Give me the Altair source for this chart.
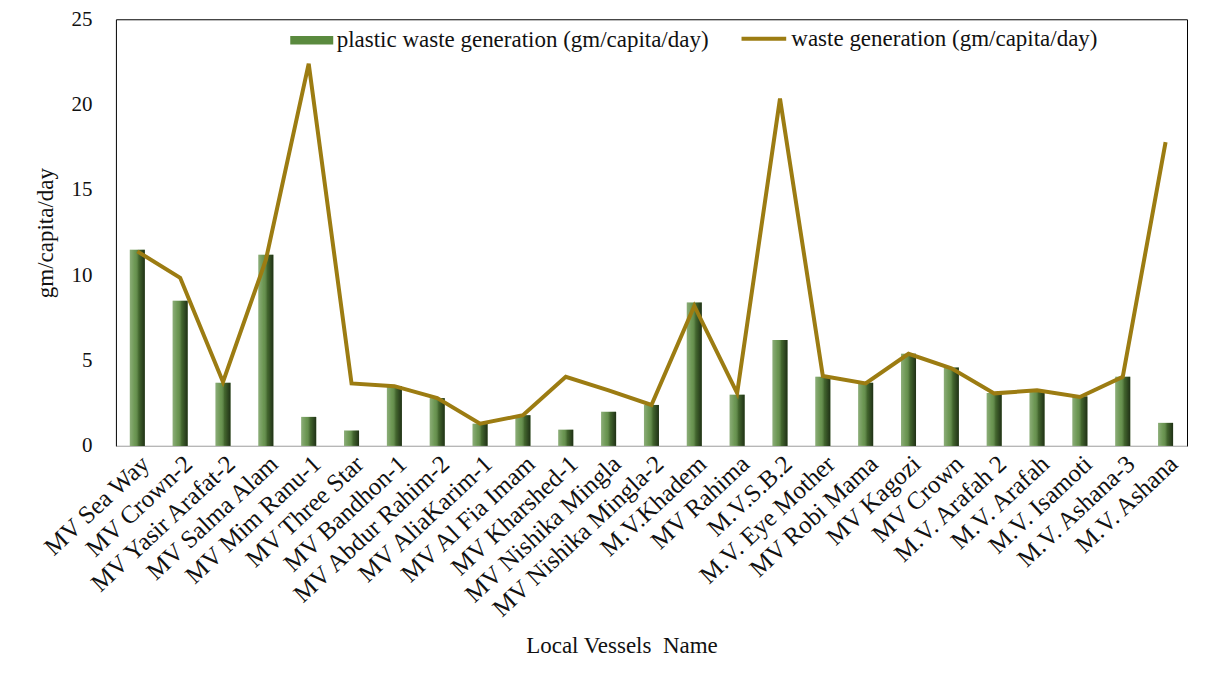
import altair as alt
import pandas as pd

vessels = [
    "MV Sea Way", "MV Crown-2", "MV Yasir Arafat-2", "MV Salma Alam", "MV Mim Ranu-1",
    "MV Three Star", "MV Bandhon-1", "MV Abdur Rahim-2", "MV AliaKarim-1", "MV Al Fia Imam",
    "MV Kharshed-1", "MV Nishika Mingla", "MV Nishika Mingla-2", "M.V.Khadem", "MV Rahima",
    "M.V.S.B.2", "M.V. Eye Mother", "MV Robi Mama", "MV Kagozi", "MV Crown",
    "M.V. Arafah 2", "M.V. Arafah", "M.V. Isamoti", "M.V. Ashana-3", "M.V. Ashana",
]
plastic = [11.5, 8.5, 3.7, 11.2, 1.7, 0.9, 3.5, 2.8, 1.3, 1.8, 0.95, 2.0, 2.4, 8.4, 3.0,
           6.2, 4.05, 3.7, 5.4, 4.6, 3.1, 3.2, 2.9, 4.05, 1.35]
waste = [11.4, 9.85, 3.75, 10.9, 22.4, 3.66, 3.5, 2.8, 1.3, 1.8, 4.05, 3.26, 2.4, 8.2, 3.1,
         20.35, 4.1, 3.66, 5.4, 4.55, 3.08, 3.26, 2.87, 4.05, 17.8]

s_plastic = "plastic waste generation (gm/capita/day)"
s_waste = "waste generation (gm/capita/day)"

df = pd.DataFrame({"vessel": vessels, "plastic": plastic, "waste": waste,
                   "s1": s_plastic, "s2": s_waste})

FONT = "Liberation Serif"

x = alt.X("vessel:N", sort=vessels, scale=alt.Scale(paddingInner=0, paddingOuter=0),
          axis=alt.Axis(title="Local Vessels\u00a0 Name", labelAngle=-43, labelFontSize=25,
                        labelFont=FONT, labelColor="#111", labelPadding=5, ticks=False,
                        domainColor="#c8c8c8", titleFont=FONT, titleFontSize=23,
                        titleFontWeight="normal", titleColor="#111",
                        titleX=506, titleY=200, titleAlign="center", titleBaseline="middle",
                        labelOverlap=False, labelLimit=0))

y_axis = alt.Axis(title="gm/capita/day", values=[0, 5, 10, 15, 20, 25], grid=False, ticks=False,
                  domain=False, labelFontSize=21, labelFont=FONT, labelColor="#111",
                  labelPadding=24, titleFont=FONT, titleFontSize=23, titleFontWeight="normal",
                  titleColor="#111", titlePadding=13)
yscale = alt.Scale(domain=[0, 25], nice=False)

bars = alt.Chart(df).mark_bar(size=15).encode(
    x=x,
    y=alt.Y("plastic:Q", scale=yscale, axis=y_axis),
    fill=alt.Fill("s1:N", scale=alt.Scale(domain=[s_plastic], range=["#5a8a3e"]),
                  legend=alt.Legend(title=None, orient="none", legendX=174, legendY=-1,
                                    labelFont=FONT, labelFontSize=23, labelColor="#111",
                                    symbolType="M-1,-0.2L1,-0.2L1,0.2L-1,0.2Z",
                                    symbolSize=1850, symbolStrokeWidth=0, labelOffset=3,
                                    labelLimit=0)),
)

shade = alt.Chart(df).mark_bar(
    size=15,
    fill=alt.Gradient(
        gradient="linear", x1=0, x2=1, y1=0, y2=0,
        stops=[
            alt.GradientStop(offset=0, color="rgba(255,255,255,0.30)"),
            alt.GradientStop(offset=0.35, color="rgba(255,255,255,0.10)"),
            alt.GradientStop(offset=0.6, color="rgba(0,0,0,0.25)"),
            alt.GradientStop(offset=1, color="rgba(0,0,0,0.65)"),
        ],
    ),
).encode(x=x, y=alt.Y("plastic:Q", scale=yscale))

line = alt.Chart(df).mark_line(strokeWidth=4, strokeJoin="miter").encode(
    x=x,
    y=alt.Y("waste:Q", scale=yscale),
    stroke=alt.Stroke("s2:N", scale=alt.Scale(domain=[s_waste], range=["#9c7c12"]),
                      legend=alt.Legend(title=None, orient="none", legendX=624, legendY=-5,
                                        labelFont=FONT, labelFontSize=23, labelColor="#111",
                                        symbolType="stroke", symbolStrokeWidth=4,
                                        symbolSize=2000, labelOffset=3, labelLimit=0)),
)

chart = alt.layer(bars, shade, line).properties(
    width=1072, height=427,
    autosize=alt.AutoSizeParams(type="none"),
    padding={"left": 108, "top": 11, "right": 10, "bottom": 230},
    background="white",
).configure_view(stroke="#000", strokeWidth=1)

chart.save("out.html", embed_options={"renderer": "svg", "actions": False})
